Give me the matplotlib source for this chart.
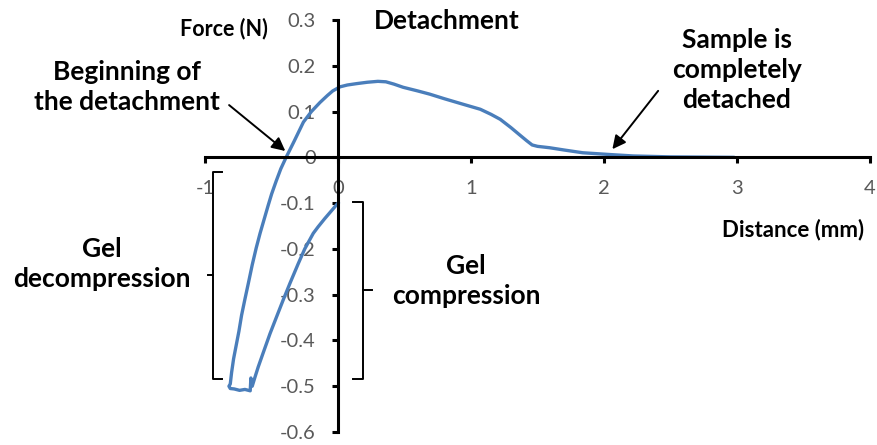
import numpy as np
import matplotlib
matplotlib.use('Agg')
import matplotlib.pyplot as plt

# Force-distance curve (distance in mm, force in N)
compression_x = [0.0, -0.05, -0.10, -0.15, -0.186, -0.25, -0.30, -0.361, -0.41, -0.46,
                 -0.511, -0.56, -0.60, -0.624, -0.645, -0.655, -0.66]
compression_y = [-0.10, -0.117, -0.134, -0.152, -0.166, -0.20, -0.233, -0.275, -0.31, -0.347,
                 -0.385, -0.425, -0.458, -0.48, -0.50, -0.482, -0.51]

bottom_x = [-0.66, -0.70, -0.74, -0.78, -0.81, -0.82]
bottom_y = [-0.51, -0.507, -0.509, -0.506, -0.505, -0.50]

detach_x = [-0.81, -0.80, -0.785, -0.765, -0.745, -0.725, -0.70, -0.674, -0.645, -0.615,
            -0.586, -0.555, -0.525, -0.499, -0.465, -0.43, -0.39, -0.33, -0.26, -0.20,
            -0.135, -0.08, -0.04, 0.015, 0.07, 0.14, 0.22, 0.30, 0.36, 0.42, 0.49, 0.60, 0.69,
            0.80, 0.94, 1.07, 1.15, 1.22, 1.30, 1.37, 1.42, 1.46, 1.50, 1.59, 1.70, 1.84,
            2.05, 2.22, 2.50, 2.97]
detach_y = [-0.495, -0.47, -0.44, -0.41, -0.38, -0.345, -0.31, -0.275, -0.235, -0.198,
            -0.166, -0.135, -0.105, -0.080, -0.052, -0.025, 0.0, 0.035, 0.077, 0.10,
            0.12, 0.135, 0.145, 0.154, 0.158, 0.161, 0.164, 0.166, 0.165, 0.160, 0.153, 0.145, 0.138,
            0.128, 0.116, 0.105, 0.094, 0.083, 0.065, 0.048, 0.036, 0.027, 0.024, 0.021, 0.016, 0.01,
            0.006, 0.003, 0.001, 0.0]

x_ticks = [-1, 0, 1, 2, 3, 4]
y_ticks = [-0.6, -0.5, -0.4, -0.3, -0.2, -0.1, 0, 0.1, 0.2, 0.3]

W, H = 877, 445
blue = '#4a7ebb'
grey = '#595959'
font = 'Lato'


def fx(px):
    return px / W


def fy(py):
    return 1 - py / H


fig = plt.figure(figsize=(W / 100, H / 100), dpi=100)
ax = fig.add_axes([fx(205), fy(432), fx(870) - fx(205), fy(20) - fy(432)])
ax.set_xlim(-1, 4)
ax.set_ylim(-0.6, 0.3)

# Excel style crossing axes
for s in ['top', 'right']:
    ax.spines[s].set_visible(False)
ax.spines['left'].set_position(('data', 0))
ax.spines['bottom'].set_position(('data', 0))
ax.spines['left'].set_linewidth(2.2)
ax.spines['bottom'].set_linewidth(2.2)

ax.set_xticks(x_ticks)
ax.set_xticklabels([str(v) for v in x_ticks])
ax.set_yticks(y_ticks)
ax.set_yticklabels(['0' if v == 0 else f'{v:.1f}' for v in y_ticks])
ax.tick_params(axis='x', direction='out', length=4, width=2.2, pad=12,
               labelsize=14.5, labelcolor=grey)
ax.tick_params(axis='y', direction='out', length=4, width=2.2, pad=12,
               labelsize=14.5, labelcolor=grey)
for lab in ax.get_xticklabels() + ax.get_yticklabels():
    lab.set_family(font)

# the curve, one continuous trace
curve_x = compression_x + bottom_x + detach_x
curve_y = compression_y + bottom_y + detach_y
ax.plot(curve_x, curve_y, color=blue, lw=2.4, solid_joinstyle='round')

# brackets
def bracket(x_line, x_serif, x_notch, y_top, y_bot):
    y_mid = (y_top + y_bot) / 2
    ax.plot([x_serif, x_line, x_line, x_serif], [y_top, y_top, y_bot, y_bot],
            color='black', lw=1.4, clip_on=False)
    ax.plot([x_line, x_notch], [y_mid, y_mid], color='black', lw=1.4, clip_on=False)

bracket(-0.94, -0.87, -0.977, -0.031, -0.484)
bracket(0.188, 0.113, 0.256, -0.097, -0.484)

# texts
kw = dict(family=font, fontweight='bold', ha='center', va='center')
fig.text(fx(224), fy(29), 'Force (N)', fontsize=15.5, **kw)
fig.text(fx(447), fy(21), 'Detachment', fontsize=19, **kw)
fig.text(fx(793), fy(230), 'Distance (mm)', fontsize=16, **kw)
fig.text(fx(127), fy(87), 'Beginning of\nthe detachment', fontsize=19, linespacing=1.32, **kw)
fig.text(fx(737), fy(70), 'Sample is\ncompletely\ndetached', fontsize=19, linespacing=1.32, **kw)
fig.text(fx(102), fy(264), 'Gel\ndecompression', fontsize=19, linespacing=1.32, **kw)
fig.text(fx(466), fy(281), 'Gel\ncompression', fontsize=19, linespacing=1.32, **kw)

# arrows
ax.annotate('', xy=(-0.38, 0.01), xytext=(-0.835, 0.118),
            arrowprops=dict(arrowstyle='-|>', color='black', lw=1.4, mutation_scale=20))
ax.annotate('', xy=(2.05, 0.013), xytext=(2.42, 0.15),
            arrowprops=dict(arrowstyle='-|>', color='black', lw=1.4, mutation_scale=20))

fig.savefig('out.png', dpi=100)
